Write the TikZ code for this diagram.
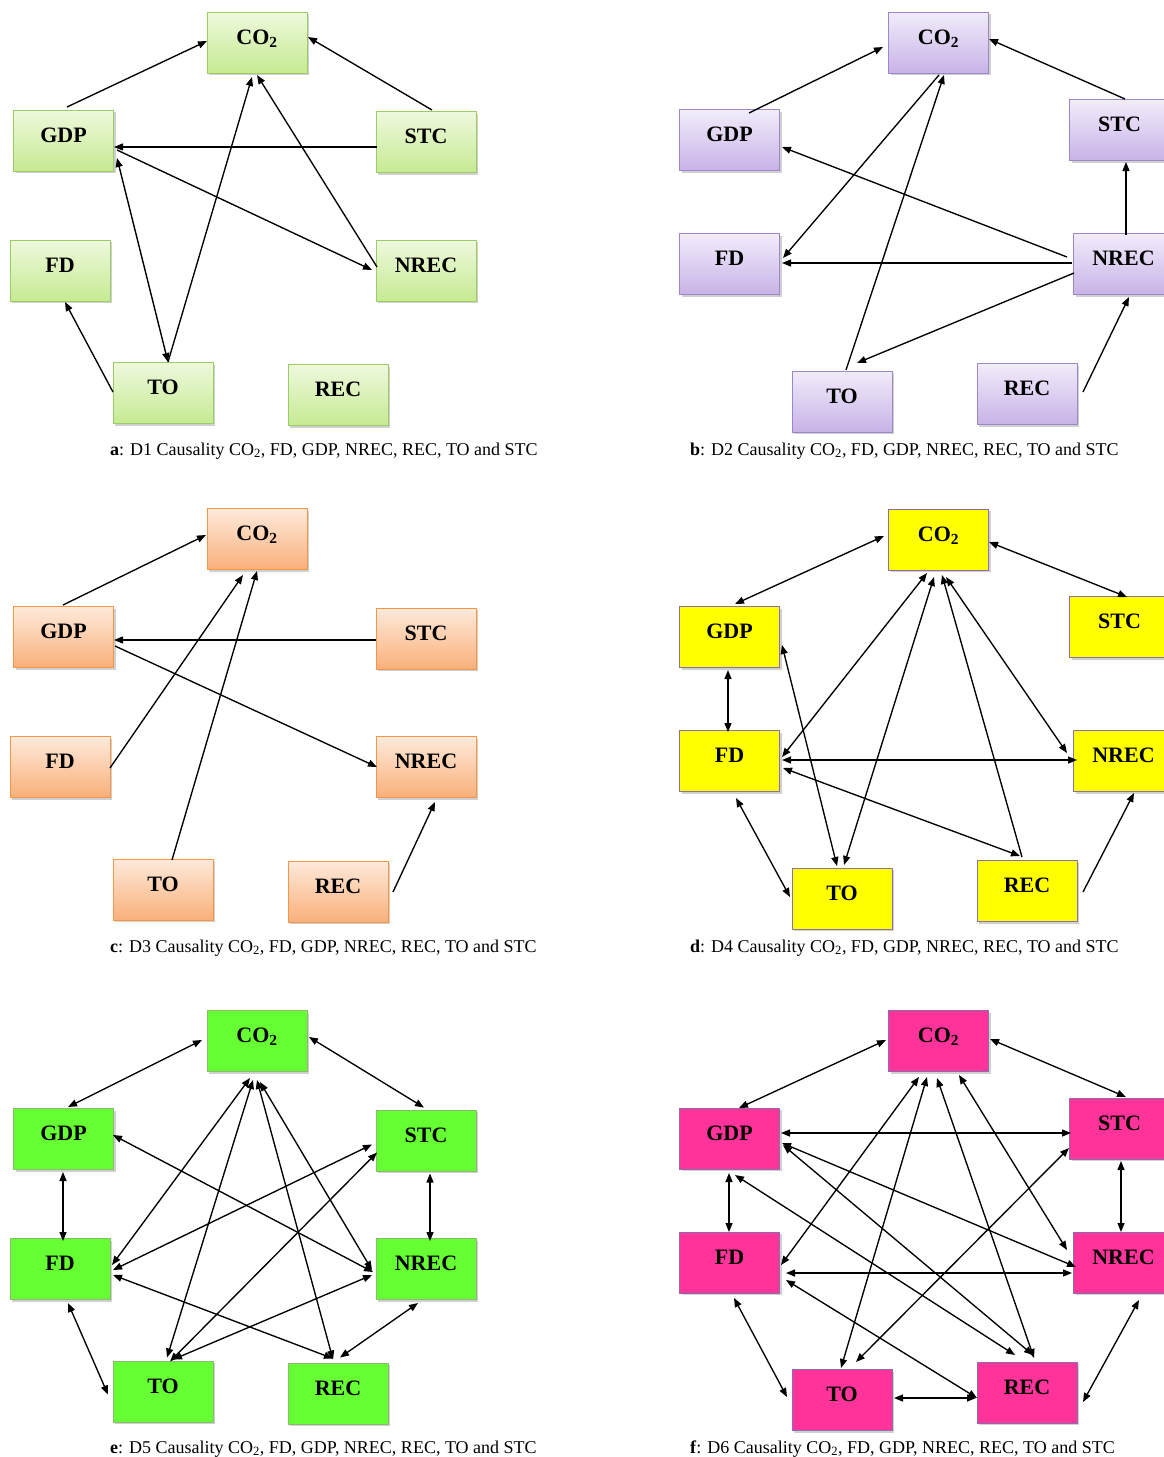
\documentclass[tikz,border=0pt]{standalone}
\usepackage{fontspec}
\setmainfont{Liberation Serif}
\usetikzlibrary{arrows.meta,shadows}
\definecolor{aTop}{HTML}{EEF9DD}\definecolor{aBot}{HTML}{C6EA92}\definecolor{aBd}{HTML}{9CCC65}
\definecolor{bTop}{HTML}{F2ECFB}\definecolor{bBot}{HTML}{C7B3E7}\definecolor{bBd}{HTML}{9B87C9}
\definecolor{cTop}{HTML}{FEEADB}\definecolor{cBot}{HTML}{F9B07A}\definecolor{cBd}{HTML}{F79646}
\definecolor{dFill}{HTML}{FFFF00}\definecolor{pBd}{HTML}{8A70B0}
\definecolor{eFill}{HTML}{66FF33}\definecolor{eBd}{HTML}{8CB870}
\definecolor{fFill}{HTML}{FF3399}
\newcommand\Lnodes[3]{%
  \node[#3] (CO#1)   at (257,42.5+#2)  {CO\textsubscript{2}};
  \node[#3] (GDP#1)  at (63.5,140.5+#2) {GDP};
  \node[#3] (STC#1)  at (426,142+#2)   {STC};
  \node[#3] (FD#1)   at (60,270.5+#2)  {FD};
  \node[#3] (NREC#1) at (426,270.5+#2) {NREC};
  \node[#3] (TO#1)   at (163,393+#2)   {TO};
  \node[#3] (REC#1)  at (338,395+#2)   {REC};
}
\newcommand\Rnodes[3]{%
  \node[#3] (CO#1)   at (938.5,42.5+#2)  {CO\textsubscript{2}};
  \node[#3] (GDP#1)  at (729.5,140+#2)   {GDP};
  \node[#3] (STC#1)  at (1119.5,130+#2)  {STC};
  \node[#3] (FD#1)   at (729.5,264+#2)   {FD};
  \node[#3] (NREC#1) at (1123.5,264+#2)  {NREC};
  \node[#3] (TO#1)   at (842,401.5+#2)   {TO};
  \node[#3] (REC#1)  at (1027,394+#2)    {REC};
}
\tikzset{
  bx/.style={draw, line width=1pt, minimum width=100pt, minimum height=61pt, inner sep=0pt,
    text height=13pt, text depth=10pt, font=\bfseries\fontsize{22}{22}\selectfont,
    drop shadow={shadow xshift=2pt, shadow yshift=-2pt, opacity=0.3, fill=black!60}},
  bxa/.style={bx, draw=aBd, top color=aTop, bottom color=aBot},
  bxb/.style={bx, draw=bBd, top color=bTop, bottom color=bBot},
  bxc/.style={bx, draw=cBd, top color=cTop, bottom color=cBot},
  bxd/.style={bx, draw=pBd, fill=dFill},
  bxe/.style={bx, draw=eBd, fill=eFill},
  bxf/.style={bx, draw=pBd, fill=fFill},
  one/.style={line width=1.35pt, -{Triangle[length=9pt,width=7pt]}},
  two/.style={line width=1.35pt, {Triangle[length=9pt,width=7pt]}-{Triangle[length=9pt,width=7pt]}},
  captxt/.style={anchor=base west, inner sep=0pt, font=\fontsize{18}{18}\selectfont}
}
\begin{document}
\begin{tikzpicture}[x=1pt,y=-1pt]
\useasboundingbox (0,0) rectangle (1164,1457);
\fill[white] (0,0) rectangle (1164,1457);
% ---------- panel a ----------
\Lnodes{a}{0}{bxa}
\draw[one] ([shift={(3.5,-33.5)}]GDPa.center) -- ([shift={(-50,-1.5)}]COa.center);
\draw[one] ([shift={(6,-32)}]STCa.center) -- ([shift={(51,-5.5)}]COa.center);
\draw[one] ([shift={(-49,5)}]STCa.center) -- ([shift={(50.5,6.5)}]GDPa.center);
\draw[one] ([shift={(53.5,9.5)}]GDPa.center) -- ([shift={(-54,-0.5)}]NRECa.center);
\draw[one] ([shift={(-49,-3.5)}]NRECa.center) -- ([shift={(0,32.5)}]COa.center);
\draw[two] ([shift={(53.5,17.5)}]GDPa.center) -- ([shift={(5,-31)}]TOa.center);
\draw[one] ([shift={(5,-31)}]TOa.center) -- ([shift={(-5,34.5)}]COa.center);
\draw[one] ([shift={(-50,-1)}]TOa.center) -- ([shift={(5,31.5)}]FDa.center);
\node[captxt] (capa) at (110,455) {\textbf{a}: D1 Causality CO\textsubscript{2}, FD, GDP, NREC, REC, TO and STC};
% ---------- panel b ----------
\Rnodes{b}{0}{bxb}
\draw[one] ([shift={(19.5,-27)}]GDPb.center) -- ([shift={(-55.5,4.5)}]COb.center);
\draw[one] ([shift={(5.5,-31)}]STCb.center) -- ([shift={(50.5,-3.5)}]COb.center);
\draw[one] ([shift={(0.5,32.5)}]COb.center) -- ([shift={(53.5,-6)}]FDb.center);
\draw[one] ([shift={(4,-31.5)}]TOb.center) -- ([shift={(5.5,32.5)}]COb.center);
\draw[one] ([shift={(-56.5,-7)}]NRECb.center) -- ([shift={(52.5,7)}]GDPb.center);
\draw[one] ([shift={(-51.5,-1)}]NRECb.center) -- ([shift={(52.5,-1)}]FDb.center);
\draw[one] ([shift={(-49.5,9)}]NRECb.center) -- ([shift={(15,-38.5)}]TOb.center);
\draw[one] ([shift={(2.5,-29)}]NRECb.center) -- ([shift={(6.5,32)}]STCb.center);
\draw[one] ([shift={(56,-2)}]RECb.center) -- ([shift={(5.5,33)}]NRECb.center);
\node[captxt] (capb) at (690,455) {\textbf{b}: D2 Causality CO\textsubscript{2}, FD, GDP, NREC, REC, TO and STC};
% ---------- panel c ----------
\Lnodes{c}{496.5}{bxc}
\draw[one] ([shift={(-0.5,-32)}]GDPc.center) -- ([shift={(-51,-4)}]COc.center);
\draw[one] ([shift={(-50,1.5)}]STCc.center) -- ([shift={(50.5,3)}]GDPc.center);
\draw[one] ([shift={(51.5,9)}]GDPc.center) -- ([shift={(-49,0)}]NRECc.center);
\draw[one] ([shift={(50,1)}]FDc.center) -- ([shift={(-14,36)}]COc.center);
\draw[one] ([shift={(9,-29.5)}]TOc.center) -- ([shift={(0,32)}]COc.center);
\draw[one] ([shift={(55,0.5)}]RECc.center) -- ([shift={(9,35)}]NRECc.center);
\node[captxt] (capc) at (110,952) {\textbf{c}: D3 Causality CO\textsubscript{2}, FD, GDP, NREC, REC, TO and STC};
% ---------- panel d ----------
\Rnodes{d}{497}{bxd}
\draw[two] ([shift={(5.5,-33)}]GDPd.center) -- ([shift={(-54.5,-3.5)}]COd.center);
\draw[two] ([shift={(50.5,2.5)}]COd.center) -- ([shift={(7.5,-30)}]STCd.center);
\draw[two] ([shift={(-1.5,33)}]GDPd.center) -- ([shift={(-1.5,-29)}]FDd.center);
\draw[two] ([shift={(52.5,8)}]GDPd.center) -- ([shift={(-5,-32.5)}]TOd.center);
\draw[two] ([shift={(-11.5,33.5)}]COd.center) -- ([shift={(52.5,-4)}]FDd.center);
\draw[two] ([shift={(-4.5,37.5)}]COd.center) -- ([shift={(2,-33.5)}]TOd.center);
\draw[one] ([shift={(-5,-34)}]RECd.center) -- ([shift={(3.5,35.5)}]COd.center);
\draw[two] ([shift={(7.5,37.5)}]COd.center) -- ([shift={(-56.5,-8)}]NRECd.center);
\draw[two] ([shift={(52.5,-1)}]FDd.center) -- ([shift={(-46.5,-1)}]NRECd.center);
\draw[two] ([shift={(53.5,7)}]FDd.center) -- ([shift={(-7,-35)}]RECd.center);
\draw[two] ([shift={(6.5,37)}]FDd.center) -- ([shift={(-52,-1.5)}]TOd.center);
\draw[one] ([shift={(56,1)}]RECd.center) -- ([shift={(10.5,32)}]NRECd.center);
\node[captxt] (capd) at (690,952) {\textbf{d}: D4 Causality CO\textsubscript{2}, FD, GDP, NREC, REC, TO and STC};
% ---------- panel e ----------
\Lnodes{e}{998.5}{bxe}
\draw[two] ([shift={(4.5,-32)}]GDPe.center) -- ([shift={(-55,-1)}]COe.center);
\draw[two] ([shift={(52,-4)}]COe.center) -- ([shift={(-2,-33)}]STCe.center);
\draw[two] ([shift={(-0.5,33)}]GDPe.center) -- ([shift={(3,-28)}]FDe.center);
\draw[two] ([shift={(4,33)}]STCe.center) -- ([shift={(4,-28)}]NRECe.center);
\draw[two] ([shift={(-7,37)}]COe.center) -- ([shift={(52,-4)}]FDe.center);
\draw[two] ([shift={(-4,39)}]COe.center) -- ([shift={(4,-34)}]TOe.center);
\draw[two] ([shift={(0,39)}]COe.center) -- ([shift={(-5,-34)}]RECe.center);
\draw[two] ([shift={(3,41)}]COe.center) -- ([shift={(-54,1)}]NRECe.center);
\draw[two] ([shift={(49.5,-4)}]GDPe.center) -- ([shift={(-53,3)}]NRECe.center);
\draw[two] ([shift={(-54,4)}]STCe.center) -- ([shift={(53,1)}]FDe.center);
\draw[two] ([shift={(-49,12)}]STCe.center) -- ([shift={(7,-30)}]TOe.center);
\draw[two] ([shift={(-54,6)}]NRECe.center) -- ([shift={(10,-32)}]TOe.center);
\draw[two] ([shift={(53,6)}]FDe.center) -- ([shift={(-5,-35)}]RECe.center);
\draw[two] ([shift={(-8,34)}]NRECe.center) -- ([shift={(2,-36)}]RECe.center);
\draw[two] ([shift={(8,34)}]FDe.center) -- ([shift={(-55,3)}]TOe.center);
\node[captxt] (cape) at (110,1453) {\textbf{e}: D5 Causality CO\textsubscript{2}, FD, GDP, NREC, REC, TO and STC};
% ---------- panel f ----------
\Rnodes{f}{998.5}{bxf}
\draw[two] ([shift={(9.5,-30.5)}]GDPf.center) -- ([shift={(-52.5,-1)}]COf.center);
\draw[two] ([shift={(51.5,-2)}]COf.center) -- ([shift={(6.5,-31.5)}]STCf.center);
\draw[two] ([shift={(51.5,-5.5)}]GDPf.center) -- ([shift={(-48.5,4.5)}]STCf.center);
\draw[two] ([shift={(-0.5,34.5)}]GDPf.center) -- ([shift={(-0.5,-30.5)}]FDf.center);
\draw[two] ([shift={(1.5,32.5)}]STCf.center) -- ([shift={(-2.5,-30.5)}]NRECf.center);
\draw[two] ([shift={(-19.5,36)}]COf.center) -- ([shift={(51.5,2.5)}]FDf.center);
\draw[two] ([shift={(-11.5,36)}]COf.center) -- ([shift={(-1,-32)}]TOf.center);
\draw[two] ([shift={(-1.5,37)}]COf.center) -- ([shift={(7,-34.5)}]RECf.center);
\draw[two] ([shift={(20.5,34)}]COf.center) -- ([shift={(-56.5,-12.5)}]NRECf.center);
\draw[two] ([shift={(52.5,4.5)}]GDPf.center) -- ([shift={(-47.5,4.5)}]NRECf.center);
\draw[two] ([shift={(53.5,6.5)}]GDPf.center) -- ([shift={(6,-37.5)}]RECf.center);
\draw[two] ([shift={(5.5,36.5)}]GDPf.center) -- ([shift={(-12,-37.5)}]RECf.center);
\draw[two] ([shift={(-50.5,19.5)}]STCf.center) -- ([shift={(14,-38)}]TOf.center);
\draw[two] ([shift={(56.5,10.5)}]FDf.center) -- ([shift={(-51.5,10.5)}]NRECf.center);
\draw[two] ([shift={(56.5,17.5)}]FDf.center) -- ([shift={(-50,5.5)}]RECf.center);
\draw[two] ([shift={(4.5,35.5)}]FDf.center) -- ([shift={(-55,-3)}]TOf.center);
\draw[two] ([shift={(52,-2)}]TOf.center) -- ([shift={(-51,5.5)}]RECf.center);
\draw[two] ([shift={(15.5,37.5)}]NRECf.center) -- ([shift={(56,9.5)}]RECf.center);
\node[captxt] (capf) at (690,1453) {\textbf{f}: D6 Causality CO\textsubscript{2}, FD, GDP, NREC, REC, TO and STC};
\end{tikzpicture}
\end{document}
